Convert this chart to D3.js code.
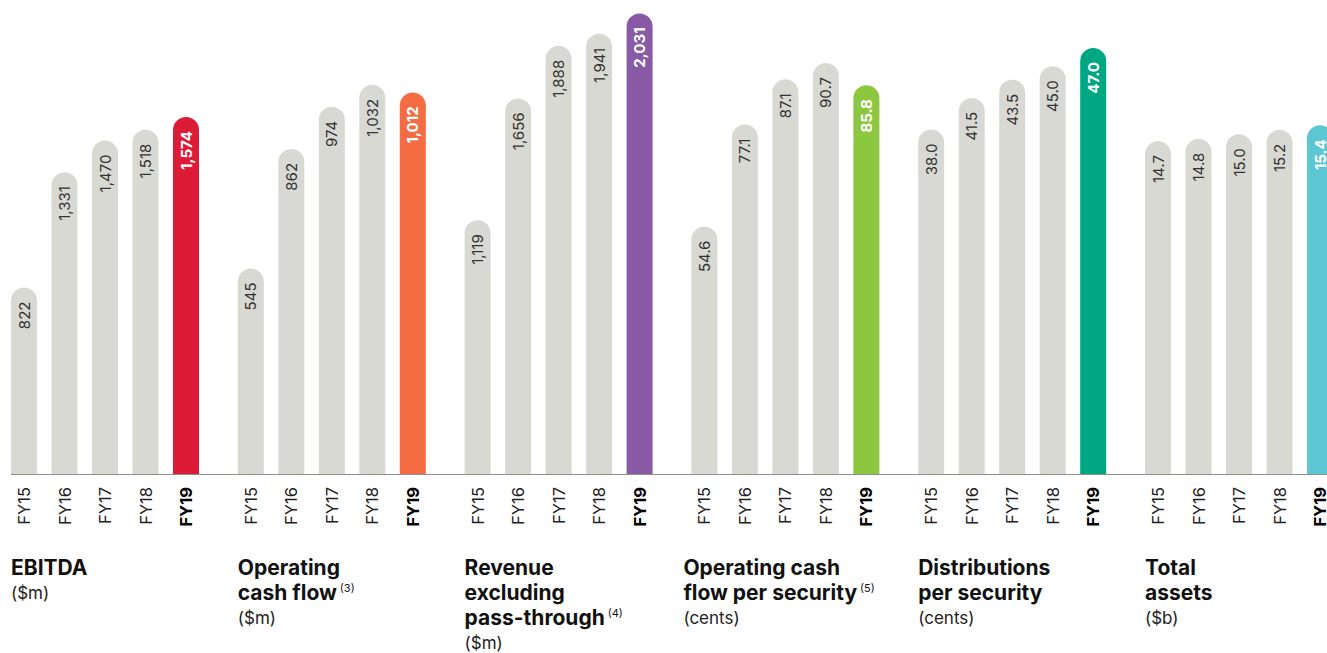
<!DOCTYPE html>
<meta charset="utf-8">
<style>
body { margin: 0; background: #fff; }
svg { display: block; font-family: Inter, "Open Sans", sans-serif; }
.val { font-size: 15px; fill: #333; }
.val.last { fill: #fff; font-weight: bold; }
.year { font-size: 16.5px; fill: #222; }
.year.last { font-weight: bold; fill: #000; }
.title { font-size: 21px; font-weight: bold; fill: #111; }
.sub { font-size: 17px; fill: #222; }
</style>

<svg width="1327" height="653"></svg>

<script src="https://d3js.org/d3.v7.min.js"></script>
<script>
// six small bar charts, FY15..FY19, with the latest year highlighted

var years = ["FY15", "FY16", "FY17", "FY18", "FY19"];

var ebitda      = [822, 1331, 1470, 1518, 1574];
var opCashFlow  = [545, 862, 974, 1032, 1012];
var revenue     = [1119, 1656, 1888, 1941, 2031];
var ocfPerSec   = [54.6, 77.1, 87.1, 90.7, 85.8];
var distPerSec  = [38.0, 41.5, 43.5, 45.0, 47.0];
var totalAssets = [14.7, 14.8, 15.0, 15.2, 15.4];

var titles = [
  ["EBITDA"],
  ["Operating", "cash flow"],
  ["Revenue", "excluding", "pass-through"],
  ["Operating cash", "flow per security"],
  ["Distributions", "per security"],
  ["Total", "assets"]
];
var notes = ["", "(3)", "(4)", "(5)", "", ""];
var units = ["($m)", "($m)", "($m)", "(cents)", "(cents)", "($b)"];

var series = [ebitda, opCashFlow, revenue, ocfPerSec, distPerSec, totalAssets];
var formats = [",", ",", ",", ".1f", ".1f", ".1f"];
// value that would reach the top of the picture, one per panel
var topValue = [2090, 1257, 2090, 104.6, 52.3, 20.93];
var highlight = ["#dc1b36", "#f36c43", "#8859a4", "#8dc63f", "#00a783", "#5cc6d3"];

var svg = d3.select("svg"),
    width = +svg.attr("width"),
    height = +svg.attr("height");

var baseY = 474,
    step = 40.5,
    barW = 26,
    panelW = 226.8,
    left = 11;

// the 4th title sits a bit left of its bars in the original
var titleShift = [0, 0, 0, -8, 0, 0];

var xYear = d3.scaleBand()
    .domain(years)
    .range([0, years.length * step - (step - barW)])
    .paddingInner((step - barW) / step)
    .paddingOuter(0);

function barPath(x, top, w, bottom) {
  var r = w / 2;
  return "M" + x + "," + bottom +
    "V" + (top + r) +
    "A" + r + "," + r + " 0 0 1 " + (x + w) + "," + (top + r) +
    "V" + bottom + "Z";
}

series.forEach(function(values, k) {
  var g = svg.append("g")
      .attr("transform", "translate(" + (left + k * panelW) + ",0)");

  var y = d3.scaleLinear()
      .domain([0, topValue[k]])
      .range([baseY, 0]);

  var fmt = d3.format(formats[k]);
  var bw = xYear.bandwidth();

  var rows = values.map(function(v, i) { return {year: years[i], value: v, last: i === years.length - 1}; });

  g.selectAll("path.bar")
      .data(rows)
    .enter().append("path")
      .attr("class", "bar")
      .attr("d", function(d) { return barPath(xYear(d.year), y(d.value), bw, baseY); })
      .style("fill", function(d) { return d.last ? highlight[k] : "#d9d9d4"; });

  g.selectAll("text.val")
      .data(rows)
    .enter().append("text")
      .attr("class", function(d) { return d.last ? "val last" : "val"; })
      .attr("text-anchor", "end")
      .attr("transform", function(d) {
        return "translate(" + (xYear(d.year) + bw / 2 + 5.5) + "," + (y(d.value) + 14) + ") rotate(-90)";
      })
      .text(function(d) { return fmt(d.value); });

  g.selectAll("text.year")
      .data(rows)
    .enter().append("text")
      .attr("class", function(d) { return d.last ? "year last" : "year"; })
      .attr("text-anchor", "end")
      .attr("transform", function(d) {
        return "translate(" + (xYear(d.year) + bw / 2 + 6) + "," + (baseY + 13) + ") rotate(-90)";
      })
      .text(function(d) { return d.year; });

  // title lines
  var lines = titles[k];
  var tx = titleShift[k];
  lines.forEach(function(line, i) {
    var t = g.append("text")
        .attr("class", "title")
        .attr("x", tx)
        .attr("y", 575 + i * 25)
        .text(line);
    if (i === lines.length - 1 && notes[k]) {
      t.append("tspan")
          .attr("dx", 3)
          .attr("dy", -8)
          .style("font-size", "11px")
          .style("font-weight", "normal")
          .text(notes[k]);
    }
  });

  g.append("text")
      .attr("class", "sub")
      .attr("x", tx)
      .attr("y", 575 + lines.length * 25 - 1)
      .text(units[k]);
});

// baseline
svg.append("line")
    .attr("x1", left)
    .attr("x2", width)
    .attr("y1", baseY + 0.5)
    .attr("y2", baseY + 0.5)
    .style("stroke", "#8f8f8a")
    .style("stroke-width", 1);
</script>
